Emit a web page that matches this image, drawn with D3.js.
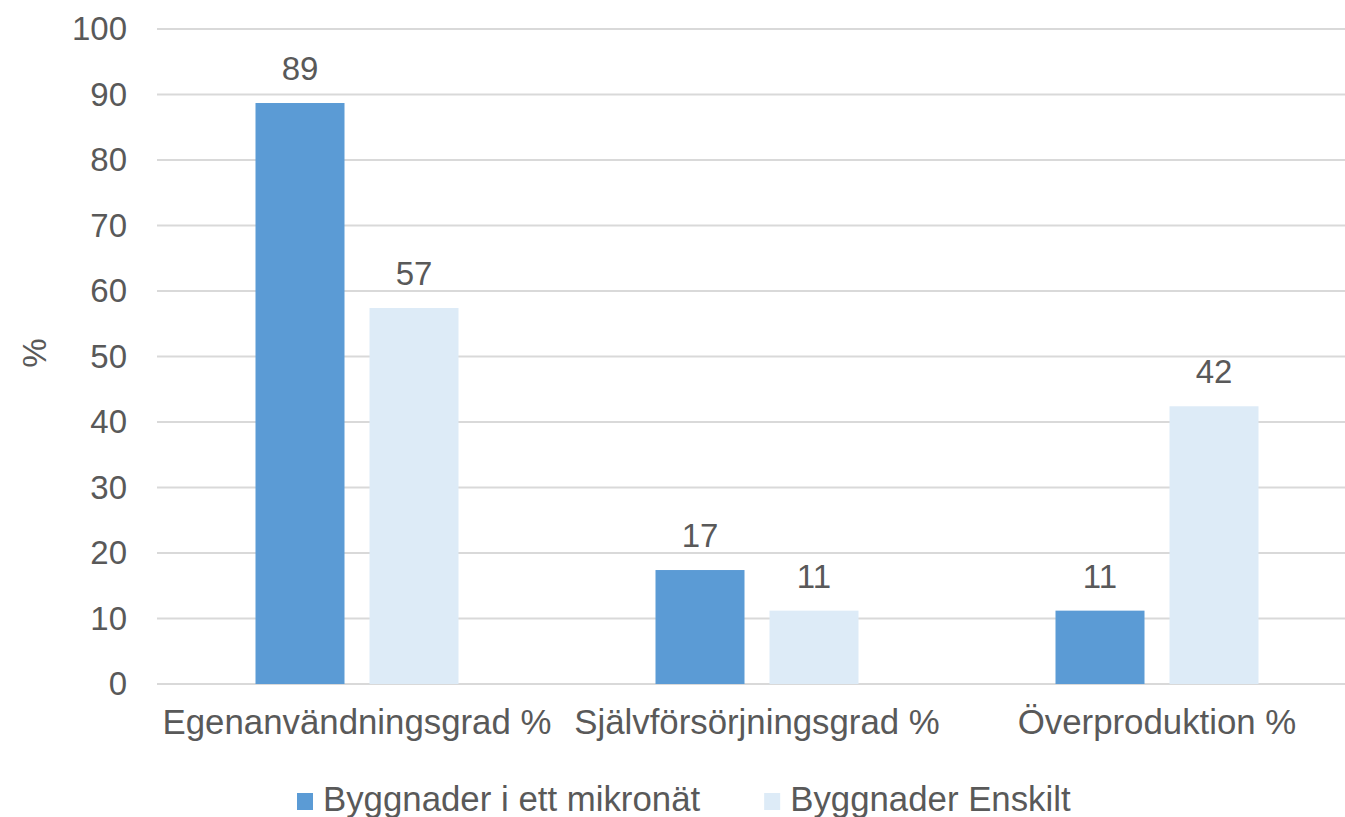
<!DOCTYPE html>
<html>
<head>
<meta charset="utf-8">
<script src="https://cdn.jsdelivr.net/npm/d3@7"></script>
<style>
  html, body { margin: 0; padding: 0; background: #ffffff; }
  svg { display: block; font-family: "Liberation Sans", Arial, sans-serif; }
</style>
</head>
<body>
<svg id="chart" width="1345" height="817"></svg>
<script>
// Categories, series and values
const categories = ["Egenanvändningsgrad %", "Självförsörjningsgrad %", "Överproduktion %"];
const seriesNames = ["Byggnader i ett mikronät", "Byggnader Enskilt"];
const microgridValues = [88.7, 17.4, 11.2];
const standaloneValues = [57.4, 11.2, 42.4];
const yTicks = [0, 10, 20, 30, 40, 50, 60, 70, 80, 90, 100];
const seriesColors = ["#5B9BD5", "#DDEBF7"];

const seriesValues = [microgridValues, standaloneValues];
const rows = categories.map((c, i) => ({
  category: c,
  values: seriesNames.map((s, j) => ({ series: s, value: seriesValues[j][i], idx: j }))
}));

const svg = d3.select("#chart");
const textColor = "#595959";
const fontSize = 33;
const wideFontSize = 34.8;

const plot = { left: 157, right: 1357, top: 29, bottom: 684 };

const y = d3.scaleLinear().domain([0, 100]).range([plot.bottom, plot.top]);

const x0 = d3.scaleBand()
  .domain(categories)
  .range([plot.left, plot.right])
  .paddingInner(0.4925)
  .paddingOuter(0.4925 / 2);

const x1 = d3.scaleBand()
  .domain(seriesNames)
  .range([0, x0.bandwidth()])
  .paddingInner(0.2193)
  .paddingOuter(0);

// Horizontal gridlines
svg.append("g")
  .selectAll("line")
  .data(yTicks)
  .join("line")
  .attr("x1", plot.left)
  .attr("x2", plot.right)
  .attr("y1", d => y(d))
  .attr("y2", d => y(d))
  .attr("stroke", "#d9d9d9")
  .attr("stroke-width", 2);

// Y axis labels
const yAxis = d3.axisLeft(y).tickValues(yTicks).tickSize(0).tickPadding(0);
const yG = svg.append("g")
  .attr("transform", `translate(127,0)`)
  .call(yAxis);
yG.select(".domain").remove();
yG.selectAll("text")
  .attr("fill", textColor)
  .attr("font-size", fontSize)
  .attr("font-family", "Liberation Sans, Arial, sans-serif");

// Y axis title
svg.append("text")
  .attr("transform", "translate(46,353) rotate(-90)")
  .attr("text-anchor", "middle")
  .attr("fill", textColor)
  .attr("font-size", fontSize)
  .text("%");

// Bars
const groups = svg.append("g")
  .selectAll("g")
  .data(rows)
  .join("g")
  .attr("transform", d => `translate(${x0(d.category)},0)`);

groups.selectAll("rect")
  .data(d => d.values)
  .join("rect")
  .attr("x", d => x1(d.series))
  .attr("width", x1.bandwidth())
  .attr("y", d => y(d.value))
  .attr("height", d => y(0) - y(d.value))
  .attr("fill", d => seriesColors[d.idx]);

// Value labels
const fmt = d3.format(".0f");
groups.selectAll("text")
  .data(d => d.values)
  .join("text")
  .attr("x", d => x1(d.series) + x1.bandwidth() / 2)
  .attr("y", d => y(d.value) - 23)
  .attr("text-anchor", "middle")
  .attr("fill", textColor)
  .attr("font-size", fontSize)
  .text(d => fmt(d.value));

// Category labels
svg.append("g")
  .selectAll("text")
  .data(categories)
  .join("text")
  .attr("x", d => x0(d) + x0.bandwidth() / 2)
  .attr("y", 734)
  .attr("text-anchor", "middle")
  .attr("fill", textColor)
  .attr("font-size", wideFontSize)
  .text(d => d);

// Legend
const legend = svg.append("g").attr("transform", "translate(297,0)");
let offset = 0;
seriesNames.forEach((name, i) => {
  const item = legend.append("g").attr("transform", `translate(${offset},0)`);
  item.append("rect")
    .attr("x", 0)
    .attr("y", 793)
    .attr("width", 16)
    .attr("height", 17)
    .attr("fill", seriesColors[i]);
  const t = item.append("text")
    .attr("x", 26)
    .attr("y", 811)
    .attr("fill", textColor)
    .attr("font-size", wideFontSize)
    .text(name);
  offset += 26 + t.node().getComputedTextLength() + 64;
});
</script>
</body>
</html>
